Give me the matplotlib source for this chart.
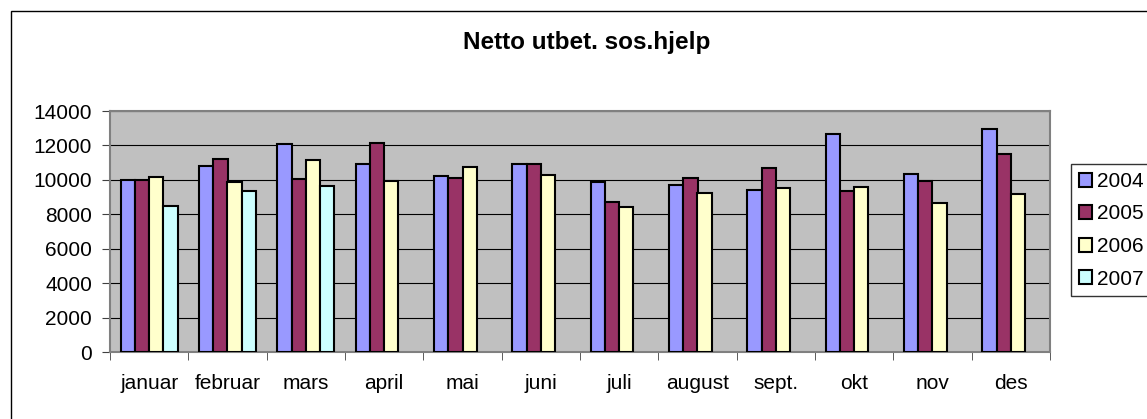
import numpy as np
import matplotlib.pyplot as plt
from matplotlib.patches import Rectangle

plt.rcParams['font.family'] = ['Liberation Sans', 'DejaVu Sans']

months = ['januar', 'februar', 'mars', 'april', 'mai', 'juni', 'juli',
          'august', 'sept.', 'okt', 'nov', 'des']
years = ['2004', '2005', '2006', '2007']
nan = np.nan
v2004 = [10000, 10800, 12100, 10950, 10250, 10950, 9900, 9700, 9420, 12680, 10350, 12950]
v2005 = [10000, 11220, 10050, 12150, 10080, 10950, 8700, 10080, 10660, 9380, 9920, 11500]
v2006 = [10150, 9850, 11130, 9950, 10760, 10270, 8400, 9230, 9540, 9580, 8650, 9190]
v2007 = [8500, 9380, 9670, nan, nan, nan, nan, nan, nan, nan, nan, nan]
colors = ['#9999FF', '#993366', '#FFFFCC', '#CCFFFF']

fig = plt.figure(figsize=(11.47, 4.19), dpi=100)
ax = fig.add_axes([110 / 1147, 1 - 352 / 419, 940 / 1147, 241 / 419])
ax.set_facecolor('#C0C0C0')

x = np.arange(len(months))
w = 1 / 5.5
series = [v2004, v2005, v2006, v2007]
for i, (vals, c, y) in enumerate(zip(series, colors, years)):
    ax.bar(x + (i - 1.5) * w, vals, w, color=c, edgecolor='black',
           linewidth=1.5, label=y, zorder=3)

ax.set_xlim(-0.5, 11.5)
ax.set_ylim(0, 14000)
ax.set_yticks(range(0, 14001, 2000))
ax.yaxis.grid(True, color='black', linewidth=0.8, zorder=1)
ax.set_xticks(x)
ax.set_xticklabels(months)
ax.set_xticks(np.arange(-0.5, 12, 1), minor=True)
ax.tick_params(axis='x', which='major', length=0, pad=16, labelsize=15)
ax.tick_params(axis='x', which='minor', length=6, color='#404040')
ax.tick_params(axis='y', length=6, pad=7, labelsize=15, color='#404040')
for s in ax.spines.values():
    s.set_color('#808080')
    s.set_linewidth(1.5)

fig.text(587 / 1147, 1 - 43 / 419, 'Netto utbet. sos.hjelp', ha='center',
         va='center', fontsize=17.5, fontweight='bold')

leg = ax.legend(loc='upper left', bbox_to_anchor=(1071 / 1147, 1 - 164 / 419),
                bbox_transform=fig.transFigure, fontsize=15, frameon=True,
                fancybox=False, handlelength=0.65, handleheight=0.65,
                handletextpad=0.2, labelspacing=0.65, borderaxespad=0,
                borderpad=0.38)
leg.get_frame().set_edgecolor('black')
leg.get_frame().set_linewidth(1)
for h in leg.legend_handles:
    h.set_linewidth(1.5)

# outer chart border (runs off the right and bottom edge)
fig.patches.append(Rectangle((11 / 1147, -0.1), 1.2, 1.1 - 11 / 419,
                             transform=fig.transFigure, fill=False,
                             edgecolor='black', linewidth=1))

fig.savefig('out.png', dpi=100)
